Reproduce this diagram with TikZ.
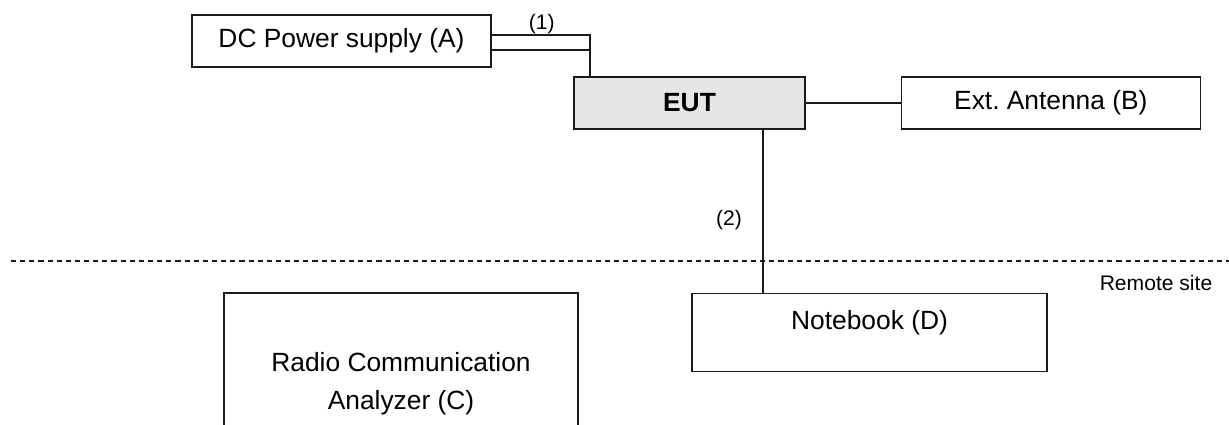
\documentclass[tikz,border=0pt]{standalone}
\usepackage{fontspec}
\setmainfont{Liberation Sans}
\usepackage{xcolor}
\usepackage{tikz}
\usetikzlibrary{calc,positioning}
\definecolor{eutgray}{HTML}{E6E6E6}
\definecolor{boxline}{HTML}{1A1A1A}

\begin{document}
\begin{tikzpicture}[x=0.02cm,y=-0.02cm]
    \tikzstyle{unit}=[draw=boxline,line width=0.8pt,inner sep=0pt,align=center,font=\fontsize{15}{21.6}\selectfont]
    \tikzstyle{cable}=[draw=boxline,line width=0.95pt]
    \tikzstyle{tag}=[inner sep=0pt,font=\fontsize{12}{14}\selectfont]
    \useasboundingbox (0,0) rectangle (1229,424);
    \clip (0,0) rectangle (1229,424);
    % test set-up
    \node[unit,minimum width=5.98cm,minimum height=1.04cm] (psu) at (341.5,41) {DC Power supply (A)};
    \node[unit,fill=eutgray,minimum width=4.62cm,minimum height=1.04cm,font=\fontsize{15}{21.6}\selectfont\bfseries] (eut) at (689.5,103) {EUT};
    \node[unit,minimum width=5.98cm,minimum height=1.04cm,right=1.9cm of eut] (ant) {Ext.\ Antenna (B)};
    \node[unit,minimum width=7.1cm,text height=0.71cm,text depth=0.85cm,anchor=north] (nb) at (869.5,293) {Notebook (D)};
    \node[unit,minimum width=7.08cm,minimum height=3.62cm] (rca) at (401,383.5) {Radio Communication\\Analyzer (C)};
    % cables
    \coordinate (jn) at ($(eut.north west)+(17,0)$);
    \draw[cable] ($(psu.east)+(0,-6)$) -| (jn);
    \draw[cable] ($(psu.east)+(0,9)$) -| (jn);
    \draw[cable] (eut) -- (ant);
    \coordinate (lan) at ($(eut.south east)+(-43,0)$);
    \draw[cable] (lan) -- (lan |- nb.north);
    \node[tag] (c1) at (541.7,24.5) {(1)};
    \node[tag] (c2) at (729,220.5) {(2)};
    % remote site border
    \draw[draw=boxline,line width=0.6pt,dash pattern=on 2.9pt off 2.3pt] (11,261) -- (1229,261);
    \node[tag] (remote) at (1156,283) {Remote site};
\end{tikzpicture}
\end{document}
